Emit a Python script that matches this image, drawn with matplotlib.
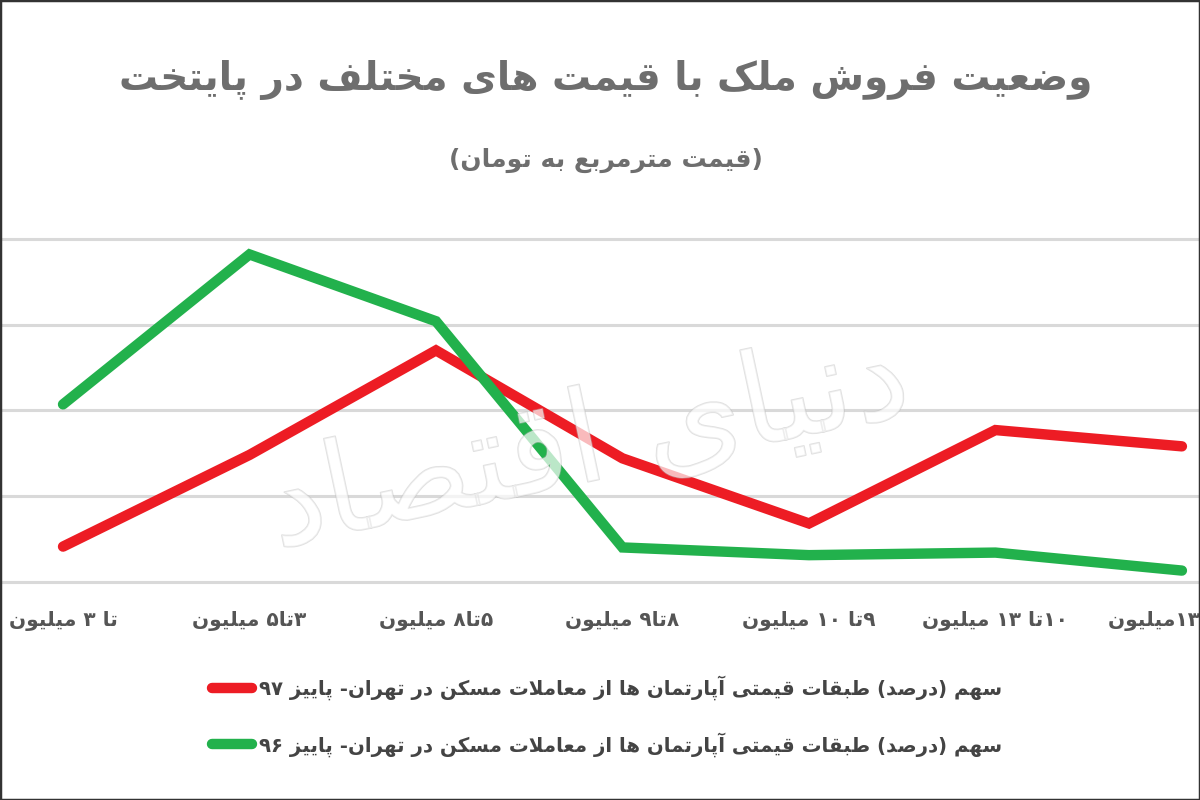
import re
import matplotlib
matplotlib.use('Agg')
import matplotlib.pyplot as plt
from matplotlib.patches import Rectangle
import matplotlib.patheffects as pe

# شکل‌دهی ساده حروف فارسی (matplotlib خودش حروف را به هم وصل نمی‌کند)
DUAL_BASE = {
    'ب': 0xFE8F, 'پ': 0xFB56, 'ت': 0xFE95, 'ث': 0xFE99, 'ج': 0xFE9D, 'چ': 0xFB7A,
    'ح': 0xFEA1, 'خ': 0xFEA5, 'س': 0xFEB1, 'ش': 0xFEB5, 'ص': 0xFEB9, 'ض': 0xFEBD,
    'ط': 0xFEC1, 'ظ': 0xFEC5, 'ع': 0xFEC9, 'غ': 0xFECD, 'ف': 0xFED1, 'ق': 0xFED5,
    'ک': 0xFB8E, 'گ': 0xFB92, 'ل': 0xFEDD, 'م': 0xFEE1, 'ن': 0xFEE5, 'ه': 0xFEE9,
    'ی': 0xFBFC,
}
RIGHT_BASE = {
    'ا': 0xFE8D, 'آ': 0xFE81, 'د': 0xFEA9, 'ذ': 0xFEAB, 'ر': 0xFEAD, 'ز': 0xFEAF,
    'ژ': 0xFB8A, 'و': 0xFEED, '\uE000': 0xFEFB, '\uE001': 0xFEF5,
}
FORMS = {c: tuple(chr(b + k) for k in range(4)) for c, b in DUAL_BASE.items()}
FORMS.update({c: (chr(b), chr(b + 1)) for c, b in RIGHT_BASE.items()})


def shape(s):
    s = s.replace('لا', '\uE000').replace('لآ', '\uE001')
    out = []
    for i, ch in enumerate(s):
        if ch not in FORMS:
            out.append(ch)
            continue
        prev = s[i - 1] if i > 0 else ''
        nxt = s[i + 1] if i + 1 < len(s) else ''
        jp = prev in DUAL_BASE
        jn = ch in DUAL_BASE and nxt in FORMS
        f = FORMS[ch]
        if jp and jn:
            out.append(f[3])
        elif jp:
            out.append(f[1])
        elif jn:
            out.append(f[2])
        else:
            out.append(f[0])
    return ''.join(out)


def fa(s):
    t = shape(s)[::-1]
    t = ''.join({'(': ')', ')': '('}.get(c, c) for c in t)
    return re.sub(r'[0-9۰-۹]+', lambda m: m.group(0)[::-1], t)


# داده‌ها
title = 'وضعیت فروش ملک با قیمت های مختلف در پایتخت'
subtitle = '(قیمت مترمربع به تومان)'
categories = ['تا ۳ میلیون', '۳تا۵ میلیون', '۵تا۸ میلیون', '۸تا۹ میلیون',
              '۹تا ۱۰ میلیون', '۱۰تا ۱۳ میلیون', 'بالای ۱۳میلیون']
share_97 = [4.1, 14.8, 27.0, 14.4, 6.8, 17.7, 15.8]
share_96 = [20.7, 38.2, 30.4, 4.0, 3.1, 3.4, 1.3]
label_97 = 'سهم (درصد) طبقات قیمتی آپارتمان ها از معاملات مسکن در تهران- پاییز ۹۷'
label_96 = 'سهم (درصد) طبقات قیمتی آپارتمان ها از معاملات مسکن در تهران- پاییز ۹۶'

plt.rcParams['font.family'] = ['DejaVu Sans']

fig = plt.figure(figsize=(12, 8), dpi=100)
ax = fig.add_axes([0, 0.2675, 1, 0.4391])

x = list(range(len(categories)))
ax.plot(x, share_97, color='#ED1C24', lw=7.5, solid_capstyle='round',
        solid_joinstyle='miter', label=fa(label_97), zorder=3)
ax.plot(x, share_96, color='#22B14C', lw=7.5, solid_capstyle='round',
        solid_joinstyle='miter', label=fa(label_96), zorder=3)

ax.set_xlim(-0.338, 6.097)
ax.set_ylim(-0.5, 40.5)
ax.set_yticks([0, 10, 20, 30, 40])
ax.set_yticklabels([])
ax.yaxis.grid(True, color='#d9d9d9', lw=2.2)
ax.set_axisbelow(True)
ax.set_xticks(x)
ax.set_xticklabels([fa(c) for c in categories], fontsize=14.5, fontweight='bold',
                   color='#555555')
ax.tick_params(axis='both', length=0, pad=18)
for sp in ax.spines.values():
    sp.set_visible(False)

# واترمارک کم‌رنگ
ax.text(0.49, 0.40, fa('دنیای اقتصاد'), transform=ax.transAxes, fontsize=92,
        color='white', alpha=0.45, rotation=12, ha='center', va='center', zorder=4,
        path_effects=[pe.withStroke(linewidth=1.2, foreground='#bbbbbb')])

fig.text(0.505, 1 - 80 / 800, fa(title), ha='center', va='center', fontsize=28,
         fontweight='bold', color='#6e6e6e')
fig.text(0.505, 1 - 160 / 800, fa(subtitle), ha='center', va='center', fontsize=18,
         fontweight='bold', color='#6e6e6e')

leg = fig.legend(loc='center', bbox_to_anchor=(0.506, 0.105), frameon=False,
                 fontsize=14.2, handlelength=2.0, handletextpad=0.35, labelspacing=1.6)
for t in leg.get_texts():
    t.set_color('#444444')
    t.set_fontweight('bold')

fig.add_artist(Rectangle((0, 0), 1, 1, transform=fig.transFigure, fill=False,
                         edgecolor='#333333', lw=2.5))

fig.savefig('out.png', dpi=100)
